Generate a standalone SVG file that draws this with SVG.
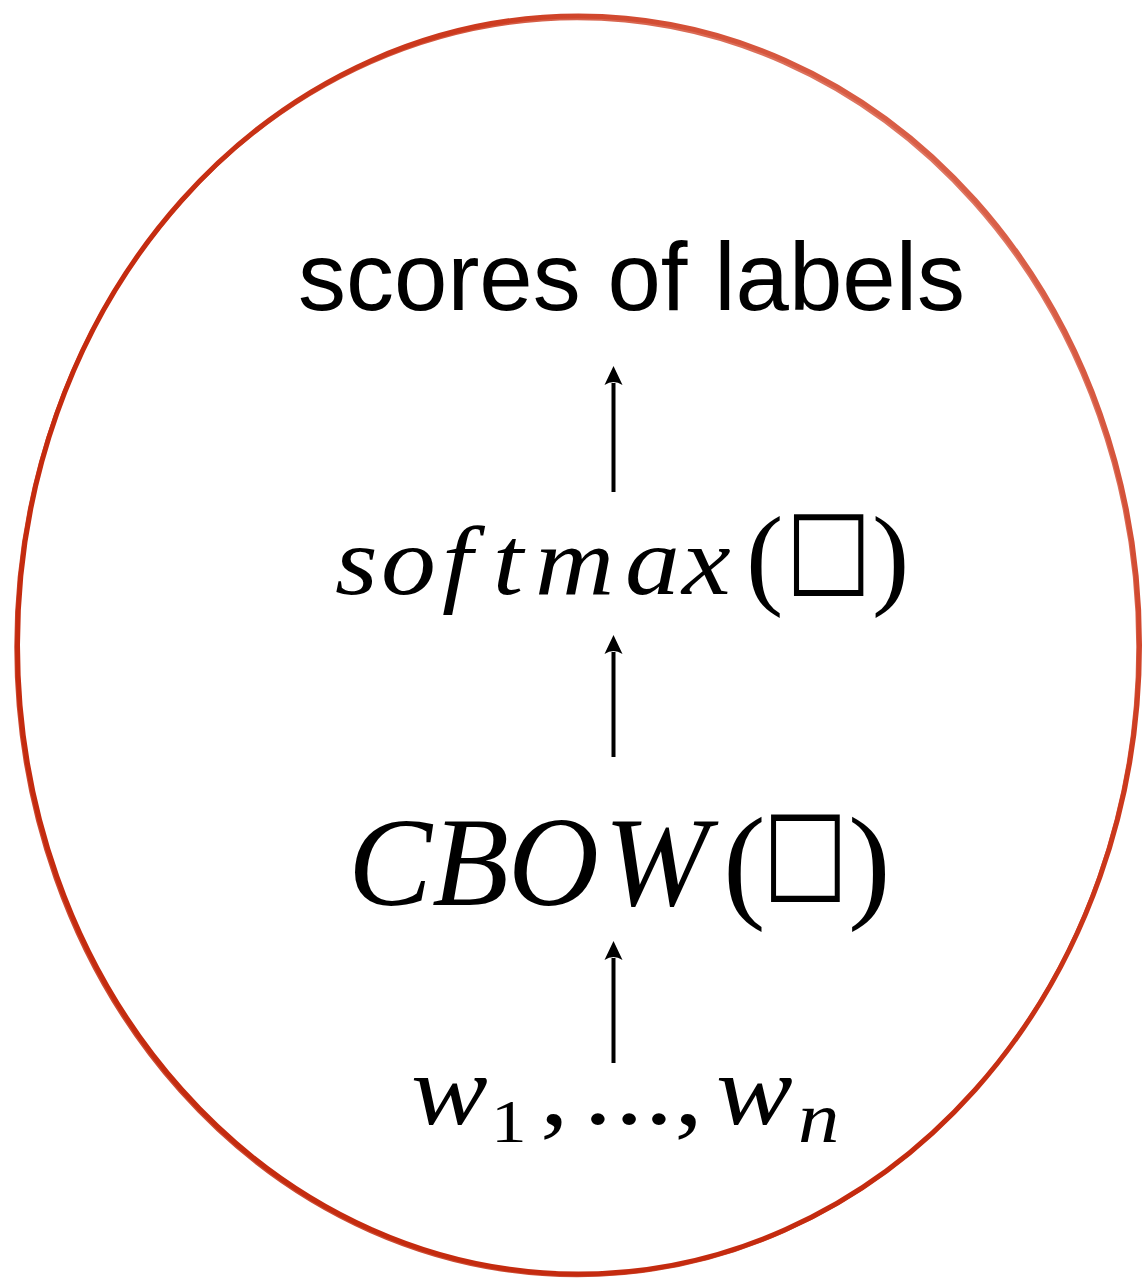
<svg xmlns="http://www.w3.org/2000/svg" width="1143" height="1284" viewBox="0 0 1143 1284">
  <defs>
    <linearGradient id="ring" x1="1" y1="0" x2="0" y2="1">
      <stop offset="0" stop-color="#e5826f"/>
      <stop offset="0.3" stop-color="#cc3a1e"/>
      <stop offset="0.55" stop-color="#c42b0f"/>
      <stop offset="1" stop-color="#c42b0f"/>
    </linearGradient>
    <style>
      .sans{font-family:"Liberation Sans",Arial,sans-serif;fill:#000}
      .math{font-family:"Liberation Serif","Times New Roman",serif;font-style:italic;fill:#000}
      .rm{font-family:"Liberation Serif","Times New Roman",serif;font-style:normal;fill:#000}
      .sym{font-family:"DejaVu Sans",sans-serif;font-style:normal;fill:#000}
      .conn{stroke:#000;stroke-width:4;fill:none}
      .head{fill:#000}
    </style>
  </defs>
  <rect width="1143" height="1284" fill="#fff"/>
  <g id="boundary">
    <ellipse cx="578.5" cy="645" rx="561" ry="629" fill="none" stroke="url(#ring)" stroke-width="5"/>
    <ellipse cx="577" cy="647" rx="561" ry="628.5" fill="none" stroke="url(#ring)" stroke-width="3.5" opacity="0.85"/>
  </g>
  <g id="connectors">
    <line class="conn" x1="613.5" y1="492" x2="613.5" y2="383"/>
    <path class="head" d="M613.5,366 L622.5,385 Q613.5,379 604.5,385 Z"/>
    <line class="conn" x1="613.5" y1="757" x2="613.5" y2="652"/>
    <path class="head" d="M613.5,635 L622.5,654 Q613.5,648 604.5,654 Z"/>
    <line class="conn" x1="613.5" y1="1063" x2="613.5" y2="958"/>
    <path class="head" d="M613.5,941 L622.5,960 Q613.5,954 604.5,960 Z"/>
  </g>
  <g id="scores">
    <text class="sans" x="298" y="310" font-size="96">scores of labels</text>
  </g>
  <g id="softmax">
    <text class="math" font-size="98" transform="translate(0,594) scale(1.12,1)"><tspan x="299.1 340.2 394.7 440 477.7 558 608.9" y="0">softmax</tspan></text>
    <text class="rm" x="746" y="594" font-size="112">(</text>
    <text class="sym" font-size="86" transform="translate(785.6,582.8) scale(1.06,1.24)">□</text>
    <text class="rm" x="872" y="594" font-size="112">)</text>
  </g>
  <g id="cbow">
    <text class="math" y="905" font-size="126"><tspan x="348 432 508 604">CBOW</tspan></text>
    <text class="rm" x="723" y="905" font-size="128">(</text>
    <text class="sym" font-size="86" transform="translate(762.7,888) scale(1.046,1.33)">□</text>
    <text class="rm" x="848" y="905" font-size="128">)</text>
  </g>
  <g id="words">
    <text class="math" font-size="100" transform="translate(0,1124) scale(1.15,1)"><tspan x="357.4" y="0">w</tspan><tspan class="rm" x="427" y="18" font-size="62">1</tspan><tspan class="rm" x="469.6" y="0">,</tspan><tspan class="rm" x="507.5 534.5 560.5">...</tspan><tspan class="rm" x="586.4">,</tspan><tspan x="622.6">w</tspan><tspan x="693.9" y="18" font-size="72">n</tspan></text>
  </g>
</svg>
